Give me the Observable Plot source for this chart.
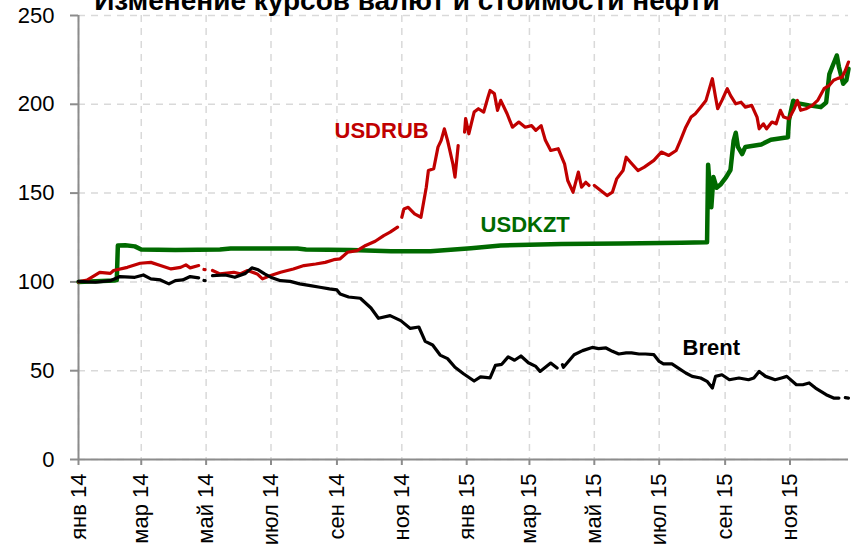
<!DOCTYPE html>
<html><head><meta charset="utf-8">
<script src="https://cdn.jsdelivr.net/npm/d3@7"></script>
<script src="https://cdn.jsdelivr.net/npm/@observablehq/plot@0.6"></script>
<style>
html,body{margin:0;padding:0;background:#fff;overflow:hidden}
#wrap{position:relative;width:856px;height:548px;overflow:hidden}
#title{position:absolute;left:0;width:814px;top:-13px;text-align:center;font:bold 28px/28px "Liberation Sans",Arial,sans-serif;color:#000;white-space:nowrap}
</style></head><body><div id="wrap"><div id="chart"></div><div id="title">Изменение курсов валют и стоимости нефти</div></div>
<script>
const xDomain = ["2014-01-01", "2015-12-26"];
const yTicks = [0, 50, 100, 150, 200, 250];
const xTickDates = ["2014-01-01","2014-03-01","2014-05-01","2014-07-01","2014-09-01","2014-11-01","2015-01-01","2015-03-01","2015-05-01","2015-07-01","2015-09-01","2015-11-01"];
const xTickLabels = ["янв 14","мар 14","май 14","июл 14","сен 14","ноя 14","янв 15","мар 15","май 15","июл 15","сен 15","ноя 15"];

const usdkzt = [["2014-01-01",100],["2014-01-17",100.4],["2014-02-04",100.8],["2014-02-06",101],["2014-02-07",120.5],["2014-02-14",120.6],["2014-02-23",120],["2014-03-01",118.2],["2014-04-02",118],["2014-05-14",118.2],["2014-05-24",118.8],["2014-07-26",118.8],["2014-08-03",118.2],["2014-09-14",118],["2014-10-22",117.3],["2014-11-28",117.3],["2015-01-05",119],["2015-02-02",120.5],["2015-03-31",121.3],["2015-05-26",121.6],["2015-07-22",122],["2015-08-15",122.3],["2015-08-16",166],["2015-08-19",142],["2015-08-21",159],["2015-08-24",153],["2015-08-28",155],["2015-09-02",159],["2015-09-06",163],["2015-09-09",179.6],["2015-09-11",184],["2015-09-13",176],["2015-09-17",172],["2015-09-20",176],["2015-10-05",177.4],["2015-10-14",180],["2015-10-30",181.5],["2015-10-31",191],["2015-11-04",202],["2015-11-09",200.5],["2015-11-19",199.4],["2015-11-30",198.4],["2015-12-05",201],["2015-12-08",217],["2015-12-10",220],["2015-12-15",227.5],["2015-12-17",221],["2015-12-21",211.6],["2015-12-24",213.5],["2015-12-26",220]];

const usdrub = [["2014-01-01",100],["2014-01-09",101],["2014-01-21",105.4],["2014-01-31",104.8],["2014-02-03",106.4],["2014-02-16",108.2],["2014-02-28",110.5],["2014-03-10",111],["2014-03-19",109.2],["2014-03-29",107.3],["2014-04-07",108.2],["2014-04-12",109.6],["2014-04-16",107.9],["2014-04-24",109.2],["2014-04-26",null],["2014-04-29",107],["2014-04-30",106.9],["2014-05-02",null],["2014-05-07",106.4],["2014-05-14",104.5],["2014-05-27",105.4],["2014-06-02",104.5],["2014-06-09",106.4],["2014-06-18",104.5],["2014-06-23",101.7],["2014-06-30",103.5],["2014-07-10",105.4],["2014-07-22",107.3],["2014-08-01",109.2],["2014-08-12",110.1],["2014-08-21",111],["2014-08-29",112.5],["2014-09-04",113],["2014-09-11",116.7],["2014-09-20",117.6],["2014-09-28",120.5],["2014-10-07",122.9],["2014-10-15",126.1],["2014-10-21",128],["2014-10-28",130.8],["2014-10-30",null],["2014-11-01",136.4],["2014-11-03",141.1],["2014-11-07",142],["2014-11-13",138.3],["2014-11-19",136.4],["2014-11-24",153.3],["2014-11-26",162.7],["2014-12-01",163.7],["2014-12-05",175.9],["2014-12-08",179.7],["2014-12-11",186.2],["2014-12-14",179.7],["2014-12-19",166.5],["2014-12-21",159],["2014-12-24",176.8],["2014-12-26",null],["2014-12-30",184.3],["2014-12-31",191.9],["2015-01-03",183.4],["2015-01-08",195.6],["2015-01-12",197.5],["2015-01-17",195.6],["2015-01-21",204],["2015-01-23",207.8],["2015-01-27",206],["2015-01-30",196.6],["2015-02-02",202.2],["2015-02-08",194.7],["2015-02-13",187.1],["2015-02-19",190],["2015-02-25",187.1],["2015-03-03",188],["2015-03-07",185.3],["2015-03-12",188],["2015-03-16",179.7],["2015-03-21",174],["2015-03-28",175],["2015-04-03",166.5],["2015-04-06",157.1],["2015-04-11",150.5],["2015-04-16",161.8],["2015-04-19",153.3],["2015-04-23",156.1],["2015-04-26",154.3],["2015-04-29",null],["2015-05-01",154.3],["2015-05-07",151.5],["2015-05-13",148.6],["2015-05-18",150.5],["2015-05-22",158],["2015-05-28",162.7],["2015-05-31",170.2],["2015-06-04",167.4],["2015-06-11",162.7],["2015-06-17",164.6],["2015-06-26",168.4],["2015-07-03",173.1],["2015-07-10",171.2],["2015-07-17",174],["2015-07-21",179.7],["2015-07-26",187.1],["2015-07-31",192.8],["2015-08-04",194.7],["2015-08-09",198.4],["2015-08-14",202.2],["2015-08-19",212.5],["2015-08-20",214.4],["2015-08-23",204],["2015-08-25",197.5],["2015-08-29",202.2],["2015-09-03",208.8],["2015-09-06",205],["2015-09-11",200.3],["2015-09-16",201.2],["2015-09-20",198.4],["2015-09-26",199.4],["2015-10-01",192.8],["2015-10-03",186.2],["2015-10-07",189],["2015-10-10",186.2],["2015-10-15",190],["2015-10-19",189],["2015-10-23",196.6],["2015-10-26",192.8],["2015-10-31",191.9],["2015-11-05",197.5],["2015-11-08",202.2],["2015-11-11",196.6],["2015-11-16",197.5],["2015-11-22",199.4],["2015-11-27",202.2],["2015-12-03",208.8],["2015-12-08",210.7],["2015-12-12",213.5],["2015-12-16",214.6],["2015-12-20",215.3],["2015-12-23",219],["2015-12-26",223.8]];

const brent = [["2014-01-01",100.3],["2014-01-17",99.8],["2014-01-31",100.7],["2014-02-09",103],["2014-02-23",102.6],["2014-03-03",103.9],["2014-03-10",101.7],["2014-03-19",101.1],["2014-03-27",98.9],["2014-04-02",100.7],["2014-04-09",101.1],["2014-04-16",103],["2014-04-24",102.3],["2014-04-27",null],["2014-04-29",100.8],["2014-04-30",100.7],["2014-05-02",null],["2014-05-07",103.5],["2014-05-19",103.9],["2014-05-28",102.6],["2014-06-07",104.8],["2014-06-13",107.9],["2014-06-19",106.8],["2014-06-25",104.5],["2014-07-02",102.3],["2014-07-10",100.7],["2014-07-19",100.3],["2014-07-28",98.9],["2014-08-07",97.9],["2014-08-16",97],["2014-08-25",96.1],["2014-09-01",95.5],["2014-09-04",93.2],["2014-09-12",91.5],["2014-09-23",90.8],["2014-10-03",85.3],["2014-10-10",79.5],["2014-10-21",81],["2014-10-31",78.2],["2014-11-09",73.8],["2014-11-17",74.6],["2014-11-23",66.5],["2014-11-30",64.5],["2014-12-07",58.8],["2014-12-14",56.8],["2014-12-21",51.9],["2014-12-29",48.3],["2015-01-08",44.2],["2015-01-14",46.5],["2015-01-23",46],["2015-01-28",53],["2015-02-03",53.6],["2015-02-09",57.8],["2015-02-15",55.9],["2015-02-21",58.3],["2015-02-28",54.5],["2015-03-07",52.4],["2015-03-11",49.6],["2015-03-21",54.3],["2015-03-27",51.5],["2015-03-30",null],["2015-04-01",53.4],["2015-04-02",51.9],["2015-04-12",59],["2015-04-20",61.3],["2015-04-29",63.1],["2015-05-05",62.4],["2015-05-12",62.8],["2015-05-18",60.9],["2015-05-24",59.4],["2015-05-31",60],["2015-06-05",60],["2015-06-12",59.4],["2015-06-18",59.4],["2015-06-26",59],["2015-07-01",55.2],["2015-07-05",53.8],["2015-07-13",53.8],["2015-07-19",51.5],["2015-07-26",48.7],["2015-08-01",46.8],["2015-08-09",45.9],["2015-08-15",44],["2015-08-20",40.2],["2015-08-23",46.8],["2015-08-29",47.7],["2015-09-05",44.9],["2015-09-14",45.9],["2015-09-23",44.9],["2015-09-28",45.9],["2015-10-03",49.6],["2015-10-09",46.8],["2015-10-18",44.9],["2015-10-24",45.9],["2015-10-29",46.8],["2015-11-07",42.1],["2015-11-13",42.1],["2015-11-19",43.1],["2015-11-25",40.2],["2015-12-05",36.5],["2015-12-12",34.6],["2015-12-17",34.6],["2015-12-20",null],["2015-12-23",34.8],["2015-12-26",34.6]];

const labelNames = ["USDRUB", "USDKZT", "Brent"];
const labelDates = ["2014-10-13", "2015-02-25", "2015-08-19"];
const labelValues = [185, 132, 63];

const parse = d3.utcParse("%Y-%m-%d");
const rows = arr => arr.map(([d, v]) => ({date: parse(d), value: v}));
const tickDates = xTickDates.map(parse);
const tickMap = new Map(tickDates.map((d, i) => [+d, xTickLabels[i]]));
const labels = labelNames.map((n, i) => ({name: n, date: parse(labelDates[i]), value: labelValues[i]}));
const colors = {USDRUB: "#c00000", USDKZT: "#006a00", Brent: "#000000"};
const font = '"Liberation Sans", Arial, sans-serif';
const gridStyle = {stroke: "#d9d9d9", strokeOpacity: 1, strokeWidth: 1.5, strokeDasharray: "7,6"};

const chart = Plot.plot({
  width: 856, height: 548,
  marginLeft: 78, marginRight: 8, marginTop: 15, marginBottom: 89,
  style: {fontFamily: font, fontSize: "22px", background: "#fff", color: "#000"},
  x: {type: "utc", domain: xDomain.map(parse)},
  y: {domain: [0, 250]},
  marks: [
    Plot.gridY(yTicks, gridStyle),
    Plot.gridX(tickDates, gridStyle),
    Plot.ruleX([parse(xDomain[0])], {stroke: "#8c8c8c", strokeWidth: 2}),
    Plot.ruleY([0], {stroke: "#8c8c8c", strokeWidth: 2}),
    Plot.axisY(yTicks, {tickSize: 8, tickPadding: 16, stroke: "#8c8c8c", strokeWidth: 2, fill: "#000", fontSize: 22, label: null}),
    Plot.axisX(tickDates, {tickSize: 6, tickPadding: 8, tickRotate: -90, stroke: "#8c8c8c", strokeWidth: 2, fill: "#000", fontSize: 22, label: null, tickFormat: d => tickMap.get(+d)}),
    Plot.line(rows(usdkzt), {x: "date", y: "value", stroke: colors.USDKZT, strokeWidth: 4.5, strokeLinejoin: "round"}),
    Plot.line(rows(usdrub), {x: "date", y: "value", stroke: colors.USDRUB, strokeWidth: 3.2, strokeLinejoin: "round"}),
    Plot.line(rows(brent), {x: "date", y: "value", stroke: colors.Brent, strokeWidth: 3.2, strokeLinejoin: "round"}),
    Plot.text(labels, {x: "date", y: "value", text: "name", fill: d => colors[d.name], fontSize: 22, fontWeight: "bold"})
  ]
});
document.getElementById("chart").appendChild(chart);
</script></body></html>
